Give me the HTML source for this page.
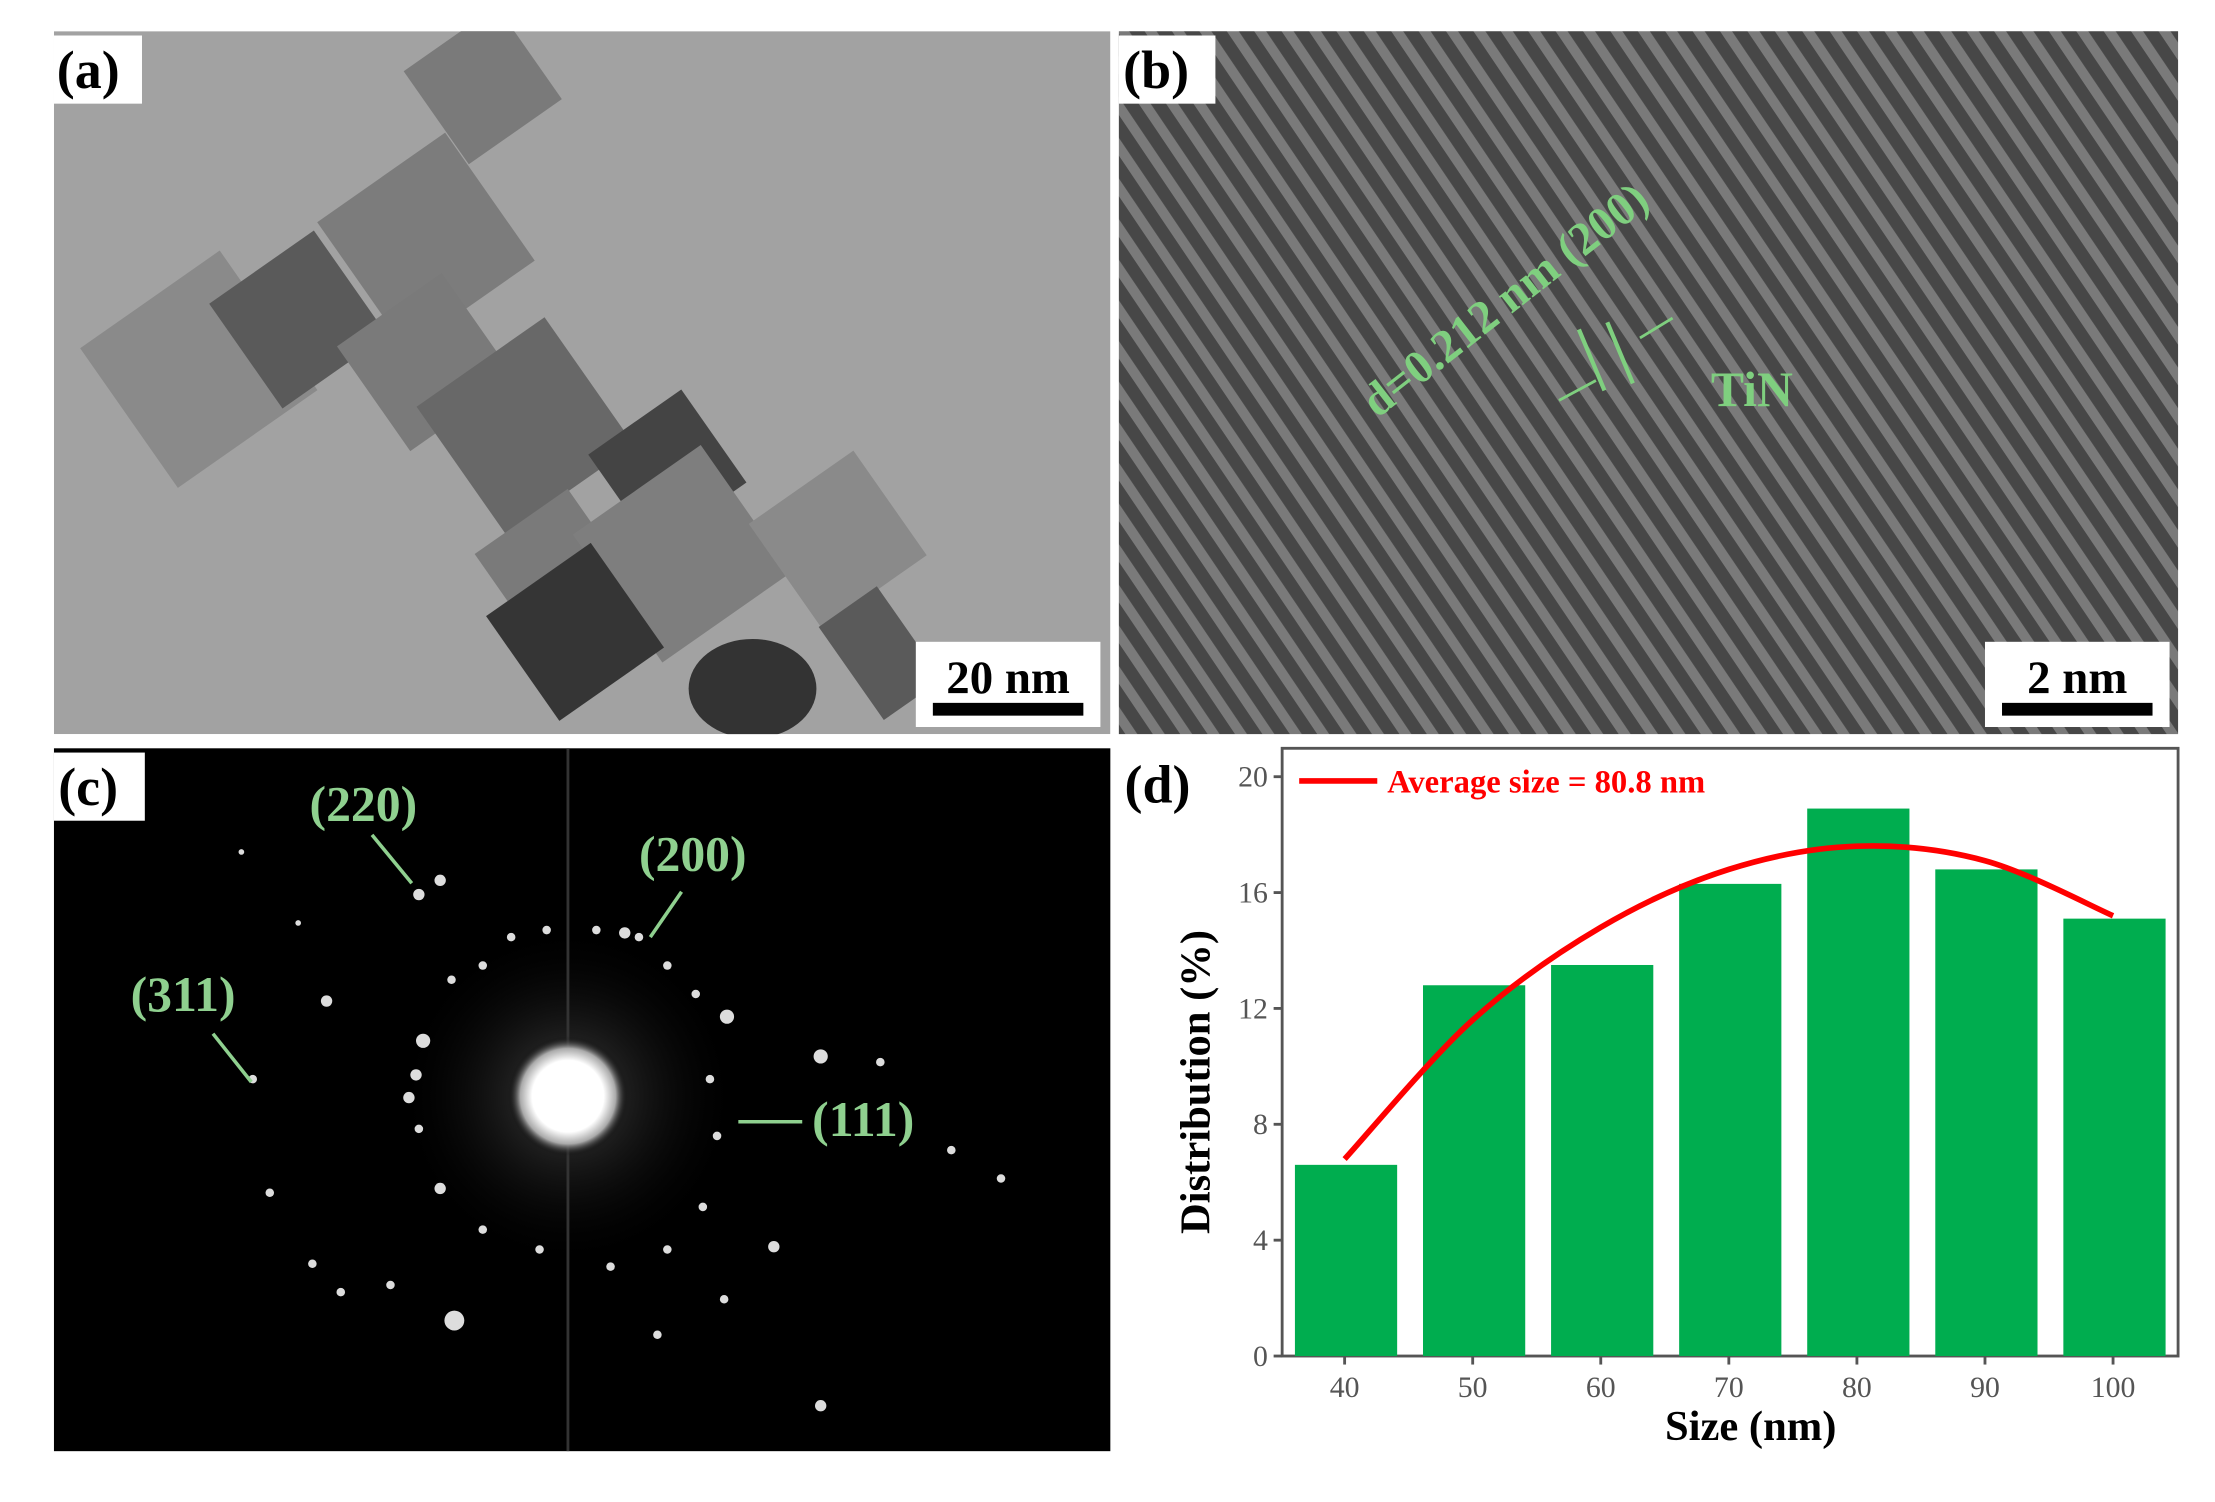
<!DOCTYPE html>
<html><head><meta charset="utf-8"><style>
html,body{margin:0;padding:0;background:#fff;}
svg{display:block;}
</style></head><body>
<svg id="fig" width="2215" height="1502" viewBox="0 0 1560 1057.8" preserveAspectRatio="none" xmlns="http://www.w3.org/2000/svg" font-family="'Liberation Serif', serif">
<defs>
<pattern id="fringes" patternUnits="userSpaceOnUse" width="16" height="16" patternTransform="rotate(-34)">
<rect width="16" height="16" fill="#474747"/><rect x="0" width="7" height="16" fill="#7a7a7a"/>
</pattern>
<radialGradient id="glow"><stop offset="0" stop-color="#fff"/><stop offset="0.6" stop-color="#fff"/><stop offset="0.8" stop-color="#aaa"/><stop offset="1" stop-color="#000" stop-opacity="0"/></radialGradient>
<radialGradient id="halo"><stop offset="0" stop-color="#444"/><stop offset="1" stop-color="#000" stop-opacity="0"/></radialGradient>
<clipPath id="clipA"><rect x="38" y="22" width="744" height="495"/></clipPath>
</defs>

<!-- panel a -->
<g clip-path="url(#clipA)">
<rect x="38" y="22" width="744" height="495" fill="#a2a2a2"/>
<g transform="rotate(-35 140 260)"><rect x="80" y="200" width="120" height="120" fill="#8a8a8a"/></g>
<g transform="rotate(-35 340 60)"><rect x="300" y="20" width="80" height="80" fill="#7a7a7a"/></g>
<g transform="rotate(-35 300 170)"><rect x="245" y="115" width="110" height="110" fill="#7c7c7c"/></g>
<g transform="rotate(-35 210 225)"><rect x="165" y="180" width="90" height="90" fill="#5a5a5a"/></g>
<g transform="rotate(-35 300 255)"><rect x="255" y="210" width="90" height="90" fill="#7a7a7a"/></g>
<g transform="rotate(-35 370 300)"><rect x="315" y="245" width="110" height="110" fill="#686868"/></g>
<g transform="rotate(-35 470 330)"><rect x="430" y="290" width="80" height="80" fill="#444"/></g>
<g transform="rotate(-35 390 400)"><rect x="350" y="360" width="80" height="80" fill="#7a7a7a"/></g>
<g transform="rotate(-35 480 390)"><rect x="425" y="335" width="110" height="110" fill="#7e7e7e"/></g>
<g transform="rotate(-35 590 380)"><rect x="545" y="335" width="90" height="90" fill="#8a8a8a"/></g>
<g transform="rotate(-35 405 445)"><rect x="360" y="400" width="90" height="90" fill="#353535"/></g>
<g transform="rotate(-35 620 460)"><rect x="595" y="420" width="50" height="80" fill="#5a5a5a"/></g>
<ellipse cx="530" cy="485" rx="45" ry="35" fill="#333"/>
<rect x="38" y="25" width="62" height="48" fill="#fff"/>
<text x="40" y="62" font-size="38" font-weight="bold">(a)</text>
<rect x="645" y="452" width="130" height="60" fill="#fff"/>
<text x="710" y="488" font-size="33" font-weight="bold" text-anchor="middle">20 nm</text>
<rect x="657" y="495" width="106" height="9" fill="#000"/>
</g>

<!-- panel b -->
<g>
<rect x="788" y="22" width="746" height="495" fill="url(#fringes)"/>
<rect x="788" y="25" width="68" height="48" fill="#fff"/>
<text x="791" y="62" font-size="38" font-weight="bold">(b)</text>
<text transform="translate(970 295) rotate(-38)" font-size="33" font-weight="bold" fill="#7fcf7f">d=0.212 nm (200)</text>
<line x1="1112" y1="232" x2="1130" y2="275" stroke="#7fcf7f" stroke-width="3"/>
<line x1="1132" y1="227" x2="1150" y2="270" stroke="#7fcf7f" stroke-width="3"/>
<line x1="1098" y1="282" x2="1124" y2="268" stroke="#7fcf7f" stroke-width="2"/>
<line x1="1178" y1="224" x2="1155" y2="238" stroke="#7fcf7f" stroke-width="2"/>
<text x="1205" y="286" font-size="35" font-weight="bold" fill="#7fcf7f">TiN</text>
<rect x="1398" y="452" width="130" height="60" fill="#fff"/>
<text x="1463" y="488" font-size="33" font-weight="bold" text-anchor="middle">2 nm</text>
<rect x="1410" y="495" width="106" height="9" fill="#000"/>
</g>

<!-- panel c -->
<g>
<rect x="38" y="527" width="744" height="495" fill="#000"/>
<circle cx="400" cy="772" r="120" fill="url(#halo)"/>
<line x1="400" y1="527" x2="400" y2="1022" stroke="#333" stroke-width="2"/>
<circle cx="400" cy="772" r="42" fill="url(#glow)"/>
<g id="spots" fill="#ddd"></g>
<rect x="38" y="530" width="64" height="48" fill="#fff"/>
<text x="41" y="567" font-size="38" font-weight="bold">(c)</text>
<g fill="#8fd08f" font-size="35" font-weight="bold">
<text x="218" y="578">(220)</text>
<text x="450" y="613">(200)</text>
<text x="92" y="712">(311)</text>
<text x="572" y="800">(111)</text>
</g>
<g stroke="#8fd08f" stroke-width="2.5">
<line x1="262" y1="588" x2="290" y2="622"/><line x1="480" y1="628" x2="458" y2="660"/>
<line x1="150" y1="728" x2="177" y2="762"/><line x1="565" y1="790" x2="520" y2="790"/>
</g>
</g>

<!-- panel d -->
<g>
<rect x="903" y="527" width="631" height="428" fill="#fff" stroke="#555" stroke-width="2"/>
<g id="bars"></g>
<g id="ticks"></g>
<path id="fitcurve" fill="none" stroke="#f00" stroke-width="4"/>
<text x="792" y="565" font-size="38" font-weight="bold">(d)</text>
<line x1="915" y1="550" x2="970" y2="550" stroke="#f00" stroke-width="4"/>
<text x="977" y="558" font-size="23" font-weight="bold" fill="#f00">Average size = 80.8 nm</text>
<text transform="translate(852 762) rotate(-90)" text-anchor="middle" font-size="30" font-weight="bold">Distribution (%)</text>
<text x="1233" y="1014" text-anchor="middle" font-size="30" font-weight="bold">Size (nm)</text>
</g>
</svg>
<script>
const sizes = [40, 50, 60, 70, 80, 90, 100];
const distribution = [6.6, 12.8, 13.5, 16.3, 18.9, 16.8, 15.1];
const fitValues = [6.8, 11.6, 14.8, 16.8, 17.6, 17.1, 15.2];
const yTicks = [0, 4, 8, 12, 16, 20];
const xTicks = [40, 50, 60, 70, 80, 90, 100];
const NS = 'http://www.w3.org/2000/svg';
const X = v => 947 + (v - 40) * 9.02;
const Y = v => 955 - v * 20.4;
const bw = 72;
const bars = document.getElementById('bars');
sizes.forEach((s, i) => {
  const r = document.createElementNS(NS, 'rect');
  r.setAttribute('x', X(s) - bw / 2 + 1);
  r.setAttribute('y', Y(distribution[i]));
  r.setAttribute('width', bw);
  r.setAttribute('height', Y(0) - Y(distribution[i]));
  r.setAttribute('fill', '#00ad4f');
  
  
  bars.appendChild(r);
});
const tg = document.getElementById('ticks');
yTicks.forEach(t => {
  const l = document.createElementNS(NS, 'line');
  l.setAttribute('x1', 897); l.setAttribute('x2', 903);
  l.setAttribute('y1', Y(t)); l.setAttribute('y2', Y(t));
  l.setAttribute('stroke', '#555'); l.setAttribute('stroke-width', 2);
  tg.appendChild(l);
  const tx = document.createElementNS(NS, 'text');
  tx.setAttribute('x', 893); tx.setAttribute('y', Y(t) + 7);
  tx.setAttribute('text-anchor', 'end'); tx.setAttribute('font-size', 21); tx.setAttribute('fill', '#555');
  tx.textContent = t;
  
  
  tg.appendChild(tx);
});
xTicks.forEach(t => {
  const l = document.createElementNS(NS, 'line');
  l.setAttribute('x1', X(t)); l.setAttribute('x2', X(t));
  l.setAttribute('y1', 955); l.setAttribute('y2', 961);
  l.setAttribute('stroke', '#555'); l.setAttribute('stroke-width', 2);
  tg.appendChild(l);
  const tx = document.createElementNS(NS, 'text');
  tx.setAttribute('x', X(t)); tx.setAttribute('y', 984);
  tx.setAttribute('text-anchor', 'middle'); tx.setAttribute('font-size', 21); tx.setAttribute('fill', '#555');
  tx.textContent = t;
  
  
  tg.appendChild(tx);
});
const pts = sizes.map((s, i) => [X(s), Y(fitValues[i])]);
let d = 'M' + pts[0][0] + ',' + pts[0][1];
for (let i = 0; i < pts.length - 1; i++) {
  const p0 = pts[Math.max(0, i - 1)], p1 = pts[i], p2 = pts[i + 1], p3 = pts[Math.min(pts.length - 1, i + 2)];
  const c1 = [p1[0] + (p2[0] - p0[0]) / 6, p1[1] + (p2[1] - p0[1]) / 6];
  const c2 = [p2[0] - (p3[0] - p1[0]) / 6, p2[1] - (p3[1] - p1[1]) / 6];
  d += ' C' + c1 + ' ' + c2 + ' ' + p2;
}
document.getElementById('fitcurve').setAttribute('d', d);
const spots = [[295,630,4],[310,620,4],[440,657,4],[450,660,3],[230,705,4],[512,716,5],[578,744,5],[298,733,5],[293,757,4],[288,773,4],[295,795,3],[310,837,4],[318,690,3],[340,680,3],[360,660,3],[385,655,3],[420,655,3],[470,680,3],[490,700,3],[500,760,3],[505,800,3],[495,850,3],[470,880,3],[430,892,3],[380,880,3],[340,866,3],[320,930,7],[275,905,3],[240,910,3],[220,890,3],[190,840,3],[178,760,3],[545,878,4],[578,990,4],[463,940,3],[510,915,3],[620,748,3],[670,810,3],[705,830,3],[210,650,2],[170,600,2]];
const sg = document.getElementById('spots');
spots.forEach(s => {
  const c = document.createElementNS(NS, 'circle');
  c.setAttribute('cx', s[0]); c.setAttribute('cy', s[1]); c.setAttribute('r', s[2]);
  
  
  sg.appendChild(c);
});
</script>
</body></html>
